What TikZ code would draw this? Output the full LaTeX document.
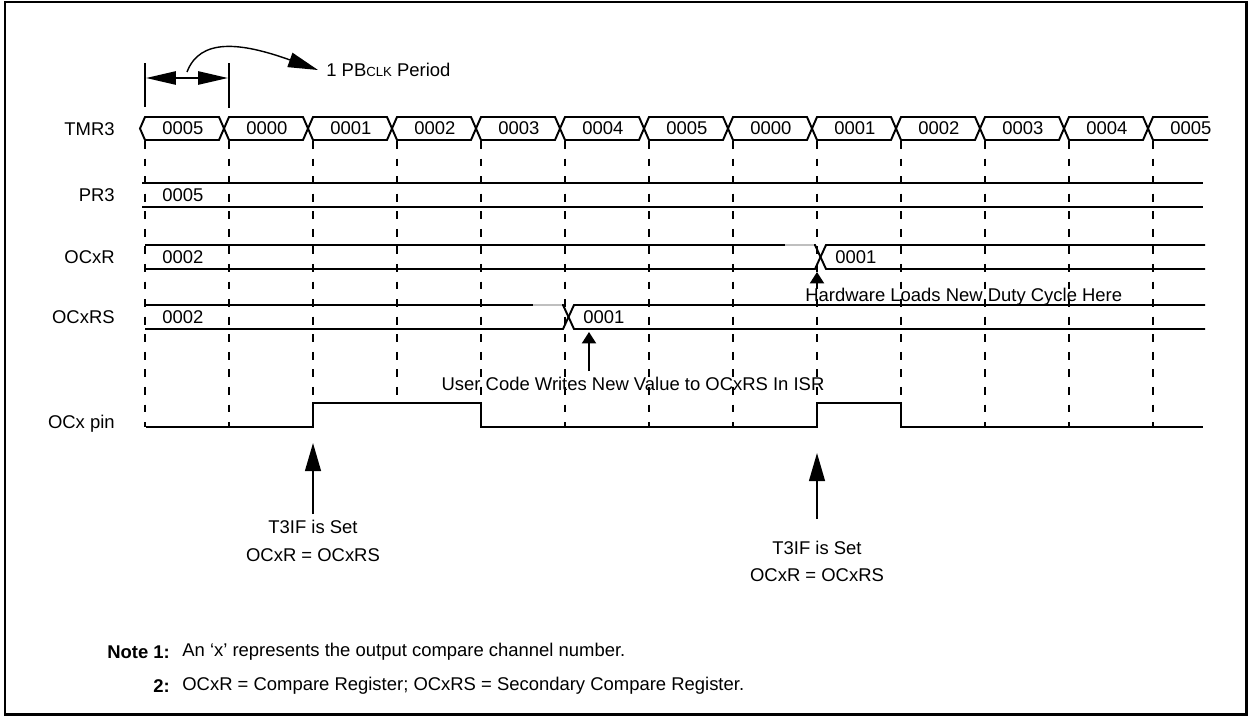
\documentclass[tikz,border=0pt]{standalone}
\usepackage{fontspec}
\setmainfont{Liberation Sans}
\usetikzlibrary{arrows.meta}
\begin{document}
\begin{tikzpicture}[x=0.02cm, y=-0.02cm, line join=miter, font=\fontsize{10.5}{12}\selectfont,
	sig/.style={line width=1.1pt},
	grid/.style={line width=0.6pt, dash pattern=on 4.5pt off 5.5pt},
	lbl/.style={anchor=east, inner sep=0pt},
	val/.style={anchor=west, inner sep=0pt},
	bigtip/.style={line width=1.1pt, -{Triangle[length=16pt,width=9pt]}},
	midtip/.style={line width=1.1pt, -{Triangle[length=6.5pt,width=8pt]}},
	dbltip/.style={line width=1.1pt, {Triangle[length=17pt,width=7.5pt]}-{Triangle[length=17pt,width=7.5pt]}}]
	\useasboundingbox (0,0) rectangle (1250,717);
	\def\xo{145} % first clock edge
	\def\per{84} % one PBCLK period
	\draw[line width=1.7pt] (5,2) rectangle (1246,714);
	% period marker
	\draw[sig] (\xo,63)--(\xo,107);
	\draw[sig] (\xo+\per,63)--(\xo+\per,108);
	\coordinate (pL) at (\xo+1,78);
	\coordinate (pR) at (\xo+\per-1,78);
	\draw[dbltip] (pL)--(pR);
	\node[val] (pclk) at (326,70) {1 PB{\fontsize{7.5}{9}\selectfont CLK} Period};
	\coordinate (cA) at (187,72);
	\coordinate (cB) at (318,70);
	\draw[line width=0.8pt, -{Triangle[length=17pt,width=8.5pt]}] (cA) .. controls (200,38) and (240,42) .. (cB);
	% row names
	\node[lbl] (nT) at (115,129) {TMR3};
	\node[lbl] (nP) at (115,195) {PR3};
	\node[lbl] (nR) at (115,257) {OCxR};
	\node[lbl] (nS) at (115,317) {OCxRS};
	\node[lbl] (nO) at (115,424) {OCx pin};
	% grid
	\foreach \k/\b in {0/427,1/427,2/403,3/403,4/403,5/427,6/427,7/427,8/403,9/403,10/427,11/427,12/427}
		\draw[grid] (\xo+\k*\per,141)--(\xo+\k*\per,\b);
	% TMR3 bus
	\foreach \k/\v in {0/0005,1/0000,2/0001,3/0002,4/0003,5/0004,6/0005,7/0000,8/0001,9/0002,10/0003,11/0004}{
		\draw[sig] (\xo+\k*\per-5,128.5)--(\xo+\k*\per,117)--(\xo+\k*\per+\per-10,117)--(\xo+\k*\per+\per-5,128.5)
			--(\xo+\k*\per+\per-10,140)--(\xo+\k*\per,140)--cycle;
		\node[val] (t\k) at (\xo+\k*\per+17,128.5) {\v};
	}
	\draw[sig] (1208,117)--(\xo+12*\per,117)--(\xo+12*\per-5,128.5)--(\xo+12*\per,140)--(1208,140);
	\node[val] (t12) at (\xo+12*\per+17,128.5) {0005};
	% PR3
	\draw[sig] (142,183)--(1203,183) (142,207)--(1203,207);
	\node[val] (vP) at (162,195) {0005};
	% OCxR
	\draw[sig] (145,245)--(815,245)--(826,269)--(1205,269);
	\draw[sig] (145,269)--(815,269)--(826,245)--(1205,245);
	\draw[line width=1.1pt, gray!50] (785,245)--(814,245);
	\node[val] (vR1) at (162,257) {0002};
	\node[val] (vR2) at (835,257) {0001};
	% OCxRS
	\draw[sig] (145,305)--(563,305)--(574,329)--(1205,329);
	\draw[sig] (145,329)--(563,329)--(574,305)--(1205,305);
	\draw[line width=1.1pt, gray!50] (533,305)--(562,305);
	\node[val] (vS1) at (162,317) {0002};
	\node[val] (vS2) at (583,317) {0001};
	% OCx pin
	\draw[sig] (146,427)--(313,427)--(313,403)--(481,403)--(481,427)--(817,427)--(817,403)--(901,403)--(901,427)--(1203,427);
	% notes on the waveform
	\coordinate (hwT) at (817,272);
	\node[val] (hw) at (805,297) {Hardware Loads New Duty Cycle Here};
	\draw[midtip] (hw.north -| hwT)--(hwT);
	\coordinate (ucT) at (589,332);
	\node (uc) at (633,384) {User Code Writes New Value to OCxRS In ISR};
	\draw[midtip] (uc.north -| ucT)--(ucT);
	\node (s1a) at (313,527) {T3IF is Set};
	\node (s1b) at (313,555) {OCxR = OCxRS};
	\coordinate (s1T) at (313,443);
	\draw[bigtip] (s1a.north)--(s1T);
	\node (s2a) at (817,548) {T3IF is Set};
	\node (s2b) at (817,575) {OCxR = OCxRS};
	\coordinate (s2T) at (817,453);
	\draw[bigtip] ([yshift=9pt]s2a.north)--(s2T);
	% footnotes
	\node[val] (n1) at (107,652) {\textbf{Note 1:}};
	\node[val] (n1t) at (182,652) {An `x' represents the output compare channel number.};
	\node[val] (n2) at (153,686) {\textbf{2:}};
	\node[val] (n2t) at (182,686) {OCxR = Compare Register; OCxRS = Secondary Compare Register.};
\end{tikzpicture}
\end{document}
